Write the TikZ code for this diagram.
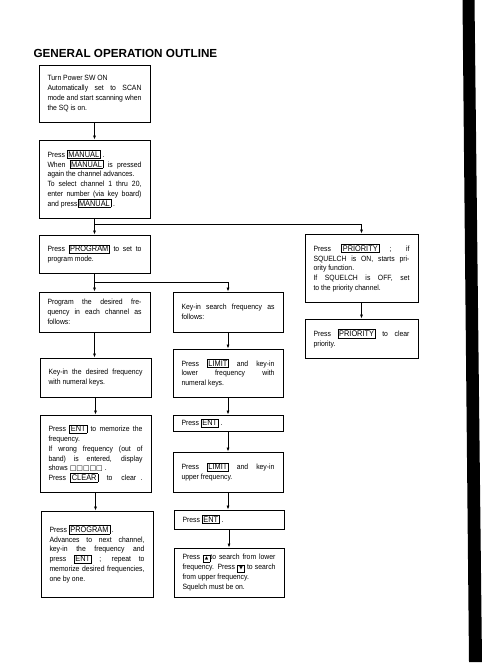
\documentclass[tikz,border=0pt]{standalone}
\usepackage{fontspec}
\setmainfont{Liberation Sans}
\newfontfamily\bodyfam[FakeStretch=0.9]{Liberation Sans}
\newfontfamily\symfont{DejaVu Sans}
\usetikzlibrary{arrows.meta}
\newcommand\bodyfont{\bodyfam\fontsize{7.6bp}{9.75bp}\selectfont\sloppy}
\newcommand\keycap[1]{{\fboxsep=1bp\fboxrule=.5bp\fbox{\fontsize{8.2bp}{8bp}\selectfont #1}}}
\newcommand\arrkey[1]{{\fboxsep=1.5bp\fboxrule=.5bp\fbox{\symfont\fontsize{4.5bp}{5bp}\selectfont #1}}}
\newcommand\blanks{{\symfont\fontsize{7bp}{7bp}\selectfont □□□□□}}

\begin{document}
\begin{tikzpicture}[x=1bp,y=-1bp,>={Latex[length=4bp,width=3bp]},
  stepbox/.style={draw,line width=.9bp,align=justify,font=\bodyfont,inner xsep=8.5bp,inner ysep=2bp,text width=#1},
  stepbox/.default=94bp,
  link/.style={->,line width=.7bp}]
\useasboundingbox (0,0) rectangle (482,668);
\node[anchor=base west,font=\fontsize{11.7bp}{12bp}\selectfont\bfseries] (title) at (30,57.5) {GENERAL OPERATION OUTLINE};
% left column
\node[stepbox,minimum height=57bp] (turnon) at (94.5,93.5) {Turn Power SW ON\\ Automatically set to SCAN\linebreak mode and start scanning when\linebreak the SQ is on.};
\node[stepbox,minimum height=78bp] (manual) at (94.5,179) {Press \keycap{MANUAL} .\\ When \keycap{MANUAL} is pressed\linebreak again the channel advances.\\ To select channel 1 thru 20,\linebreak enter number (via key board)\linebreak and press\keycap{MANUAL} .};
\node[stepbox,minimum height=38bp] (program) at (94.5,254) {Press \keycap{PROGRAM} to set to\linebreak program mode.};
\node[stepbox,minimum height=40bp] (progfreq) at (94.5,312) {Program the desired fre-\linebreak quency in each channel as\linebreak follows:};
\node[stepbox,minimum height=39bp] (keyfreq) at (95.5,377.5) {Key-in the desired frequency\linebreak with numeral keys.};
\node[stepbox,minimum height=77bp] (entmem) at (95.5,453.5) {Press \keycap{ENT} to memorize the\linebreak frequency.\\ If wrong frequency (out of\linebreak band) is entered, display\linebreak shows \blanks\ .\\ \makebox[\linewidth][s]{Press \keycap{CLEAR} \ to \ clear .}};
\node[stepbox=95bp,minimum height=86bp] (nextch) at (97,554) {Press \keycap{PROGRAM} .\\ Advances to next channel,\linebreak key-in the frequency and\linebreak press \keycap{ENT} ; repeat to\linebreak memorize desired frequencies,\linebreak one by one.};
% middle column
\node[stepbox=93bp,minimum height=40bp] (searchin) at (228,312) {Key-in search frequency as\linebreak follows:};
\node[stepbox=93bp,minimum height=48bp] (limlow) at (228,373) {Press \keycap{LIMIT} and key-in\linebreak lower frequency with\linebreak numeral keys.};
\node[stepbox=93bp,minimum height=16bp] (ent1) at (228,423) {Press \keycap{ENT} .};
\node[stepbox=93bp,minimum height=40bp] (limup) at (228,472) {Press \keycap{LIMIT} and key-in\linebreak upper frequency.};
\node[stepbox=93bp,minimum height=19bp] (ent2) at (229,519.5) {Press \keycap{ENT} .};
\node[stepbox=93bp,minimum height=49bp] (search) at (229,572.5) {Press \arrkey{▲}to search from lower\linebreak frequency. Press \arrkey{▼} to search\linebreak from upper frequency.\\ Squelch must be on.};
% right column
\node[stepbox=96bp,minimum height=68bp] (prio) at (361.5,268) {Press \keycap{PRIORITY} ; if\linebreak SQUELCH is ON, starts pri-\linebreak ority function.\\ If SQUELCH is OFF, set\linebreak to the priority channel.};
\node[stepbox=96bp,minimum height=39bp] (prioclr) at (361.5,338.5) {Press \keycap{PRIORITY} to clear\linebreak priority.};
% connectors
\coordinate (forkA) at (94.5,224);
\coordinate (forkB) at (94.5,282);
\draw[link] (turnon) -- (manual);
\draw[link] (manual) -- (program);
\draw[link] (forkA) -| (prio.north);
\draw[link] (prio) -- (prioclr);
\draw[link] (program) -- (progfreq);
\draw[link] (forkB) -| (searchin.north);
\draw[link] (progfreq) -- (progfreq.south |- keyfreq.north);
\draw[link] (keyfreq) -- (entmem);
\draw[link] (entmem) -- (entmem.south |- nextch.north);
\draw[link] (searchin) -- (limlow);
\draw[link] (limlow) -- (ent1);
\draw[link] (ent1) -- (limup);
\draw[link] (limup) -- (limup.south |- ent2.north);
\draw[link] (ent2) -- (search);
% scan edge
\fill (462.5,0) -- (474.5,0) -- (482,662) -- (469,662) -- cycle;
\end{tikzpicture}
\end{document}
